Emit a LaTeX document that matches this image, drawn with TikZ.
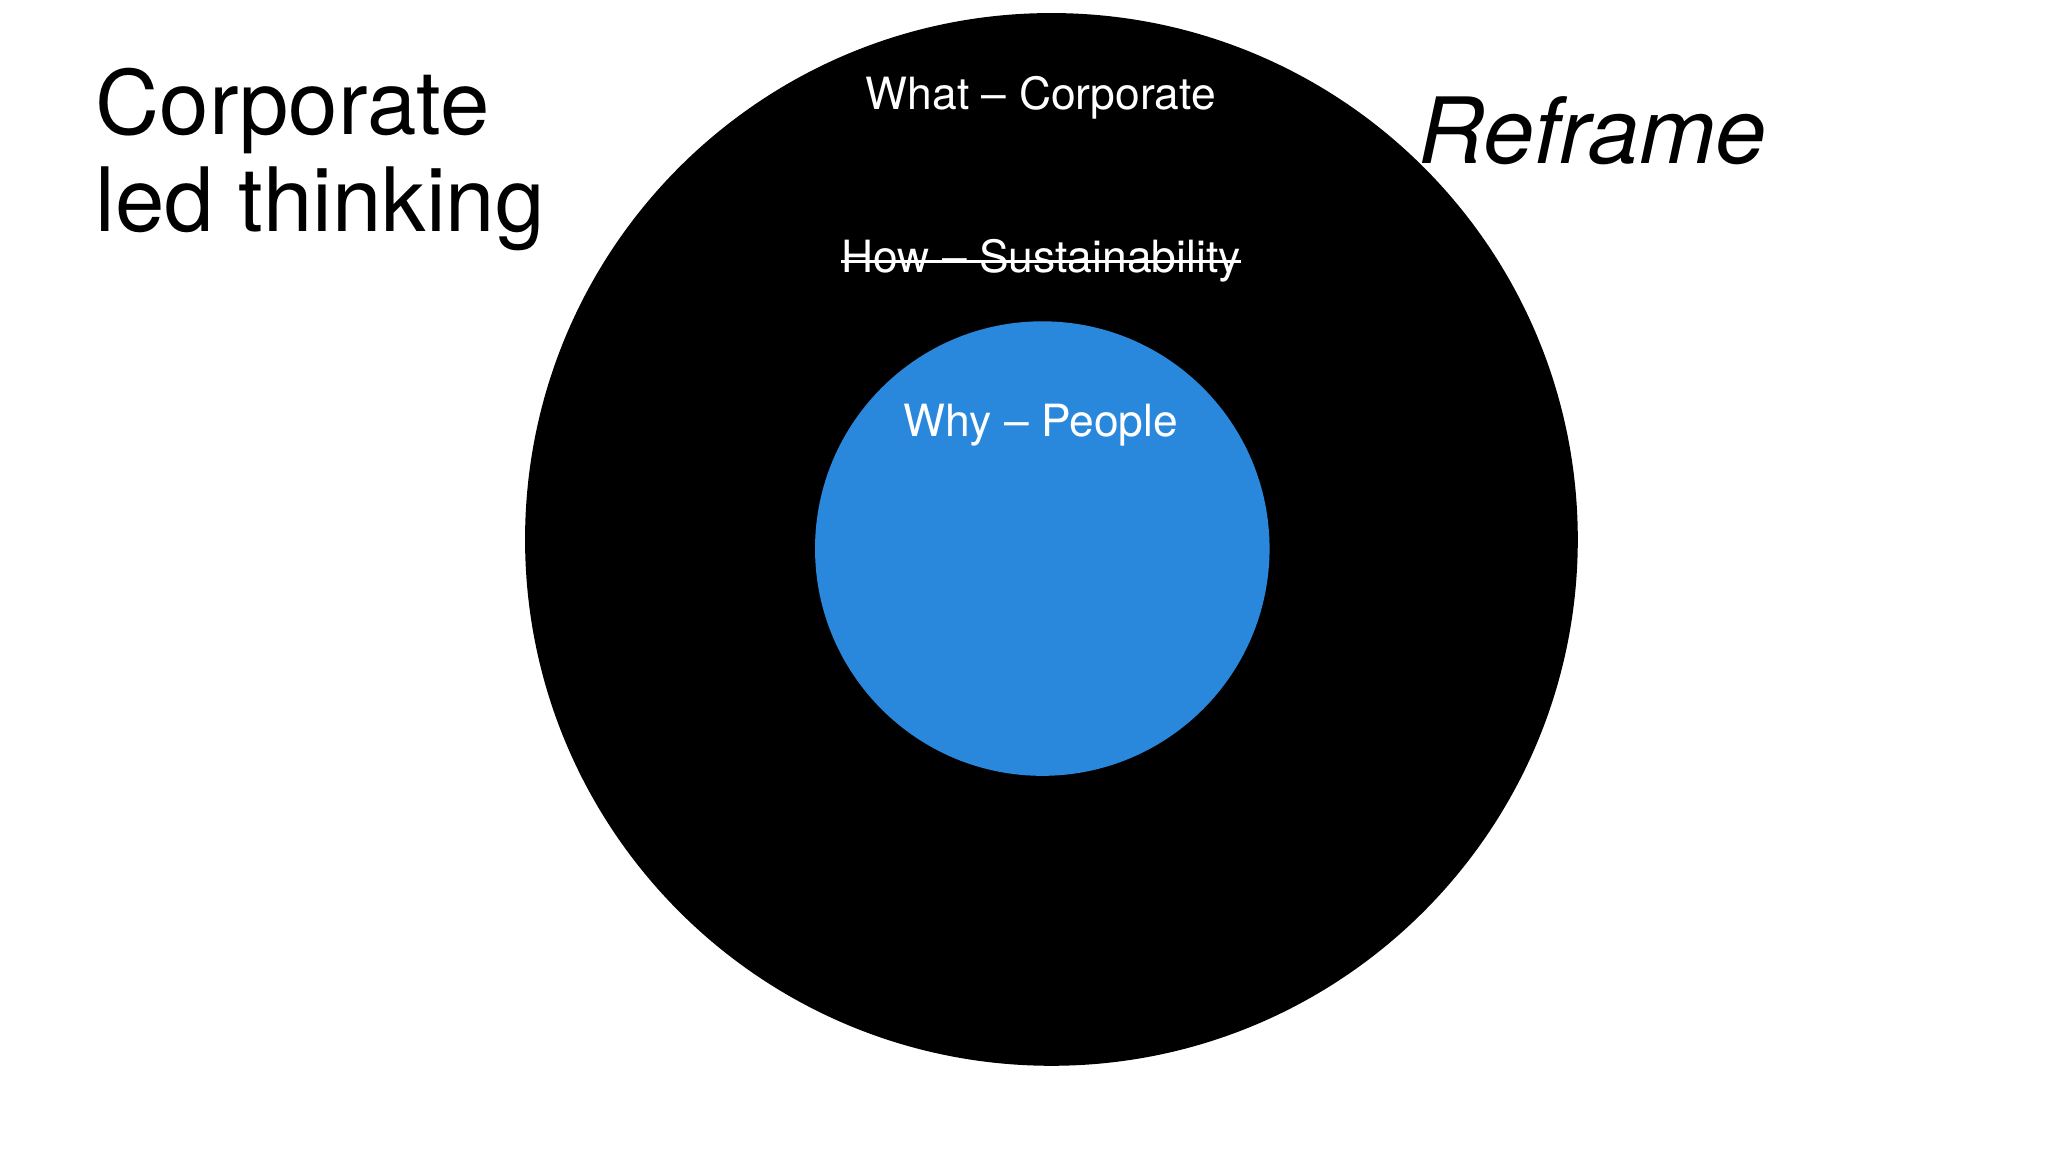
\documentclass[tikz,border=0pt]{standalone}
\usepackage{fontspec}
\setmainfont{TeX Gyre Heros}
\begin{document}
\begin{tikzpicture}[x=1pt,y=-1pt,
  lbl/.style={text=white,font=\fontsize{34}{40}\selectfont,inner sep=0pt,anchor=base}]
\useasboundingbox (0,0) rectangle (1568,882);
\fill[white] (0,0) rectangle (1568,882);
\node[draw=none,fill=black,circle,minimum size=806pt,inner sep=0pt] (outer) at (805,413) {};
\node[fill=black!0,circle,minimum size=348pt,inner sep=0pt,fill={rgb,255:red,42;green,136;blue,220}] (inner) at (798,420) {};
\node[lbl] (what) at (797,84) {What – Corporate};
\node[lbl] (how) at (797,209) {How – Sustainability};
\draw[white,line width=2pt] (how.west |- 0,200) -- (how.east |- 0,200);
\node[lbl] (why) at (797,334) {Why – People};
\node[anchor=base west,align=left,inner sep=0pt,font=\fontsize{68}{75}\selectfont] (corp) at (73,103) {Corporate};
\node[anchor=base west,inner sep=0pt,font=\fontsize{68}{75}\selectfont] (led) at (73,177) {led thinking};
\node[anchor=base west,inner sep=0pt,font=\fontsize{70}{75}\selectfont\itshape] (ref) at (1086,125) {Reframe};
\end{tikzpicture}
\end{document}
